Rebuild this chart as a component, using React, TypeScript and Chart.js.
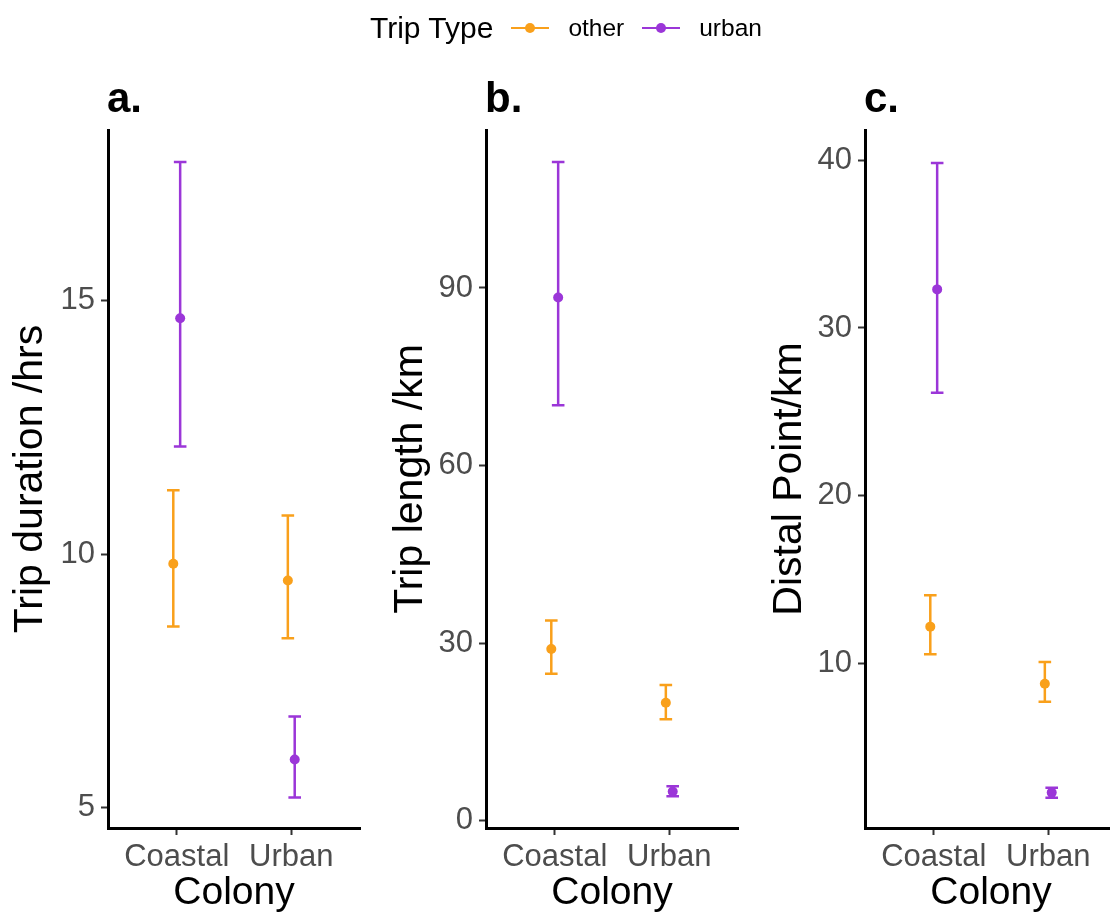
import React, { useEffect, useRef } from 'react';
import { Chart, registerables } from 'chart.js';

Chart.register(...registerables);

// ---------- data ----------
const categories = ['Coastal', 'Urban'];
const seriesNames = ['other', 'urban'];
const seriesColors = ['#F9A01B', '#9B36D8'];
const legendTitle = 'Trip Type';
const xTitle = 'Colony';

// a. Trip duration /hrs
const durationOther = [9.81, 9.48];
const durationOtherLow = [8.57, 8.34];
const durationOtherHigh = [11.26, 10.76];
const durationUrban = [14.65, 5.95];
const durationUrbanLow = [12.12, 5.2];
const durationUrbanHigh = [17.73, 6.8];
const durationTicks = [5, 10, 15];
const durationRange = [4.6, 18.36];

// b. Trip length /km
const lengthOther = [29.0, 19.9];
const lengthOtherLow = [24.8, 17.1];
const lengthOtherHigh = [33.8, 22.9];
const lengthUrban = [88.4, 4.9];
const lengthUrbanLow = [70.2, 4.1];
const lengthUrbanHigh = [111.3, 5.8];
const lengthTicks = [0, 30, 60, 90];
const lengthRange = [-1.26, 116.7];

// c. Distal Point/km
const distalOther = [12.2, 8.8];
const distalOtherLow = [10.56, 7.72];
const distalOtherHigh = [14.07, 10.1];
const distalUrban = [32.3, 2.31];
const distalUrbanLow = [26.14, 2.0];
const distalUrbanHigh = [39.84, 2.6];
const distalTicks = [10, 20, 30, 40];
const distalRange = [0.2, 41.8];

const dodge = [-0.03, 0.03];
const capHalfWidth = 0.055;

const FONT = "'Liberation Sans', Arial, Helvetica, sans-serif";
Chart.defaults.font.family = FONT;

type PanelDef = {
  label: string;
  yTitle: string;
  mids: number[][];
  lows: number[][];
  highs: number[][];
  ticks: number[];
  range: number[];
  canvasLeft: number;
  canvasWidth: number;
  axisLeft: number;
  axisRight: number;
  titlePad: number;
};

const panels: PanelDef[] = [
  {
    label: 'a.', yTitle: 'Trip duration /hrs',
    mids: [durationOther, durationUrban], lows: [durationOtherLow, durationUrbanLow], highs: [durationOtherHigh, durationUrbanHigh],
    ticks: durationTicks, range: durationRange,
    canvasLeft: 0, canvasWidth: 370, axisLeft: 108, axisRight: 360, titlePad: 6,
  },
  {
    label: 'b.', yTitle: 'Trip length /km',
    mids: [lengthOther, lengthUrban], lows: [lengthOtherLow, lengthUrbanLow], highs: [lengthOtherHigh, lengthUrbanHigh],
    ticks: lengthTicks, range: lengthRange,
    canvasLeft: 370, canvasWidth: 375, axisLeft: 486, axisRight: 738, titlePad: 16,
  },
  {
    label: 'c.', yTitle: 'Distal Point/km',
    mids: [distalOther, distalUrban], lows: [distalOtherLow, distalUrbanLow], highs: [distalOtherHigh, distalUrbanHigh],
    ticks: distalTicks, range: distalRange,
    canvasLeft: 745, canvasWidth: 380, axisLeft: 865, axisRight: 1117, titlePad: 20,
  },
];

const CANVAS_H = 917;
const PLOT_TOP = 130;
const PLOT_BOTTOM = 828;

const errorBarPlugin = {
  id: 'errorBars',
  beforeDatasetsDraw(chart: any) {
    const { ctx, scales } = chart;
    const xs = scales.x;
    const ys = scales.y;
    chart.data.datasets.forEach((ds: any) => {
      ctx.save();
      ctx.strokeStyle = ds.borderColor;
      ctx.lineWidth = 2.5;
      ctx.lineCap = 'butt';
      ds.data.forEach((pt: any, i: number) => {
        const px = xs.getPixelForValue(pt.x);
        const pl = xs.getPixelForValue(pt.x - capHalfWidth);
        const pr = xs.getPixelForValue(pt.x + capHalfWidth);
        const yLo = ys.getPixelForValue(ds.errLow[i]);
        const yHi = ys.getPixelForValue(ds.errHigh[i]);
        ctx.beginPath();
        ctx.moveTo(px, yLo);
        ctx.lineTo(px, yHi);
        ctx.moveTo(pl, yLo);
        ctx.lineTo(pr, yLo);
        ctx.moveTo(pl, yHi);
        ctx.lineTo(pr, yHi);
        ctx.stroke();
      });
      ctx.restore();
    });
  },
};

const panelLabelPlugin = {
  id: 'panelLabel',
  afterDraw(chart: any, _args: any, opts: any) {
    const { ctx, chartArea } = chart;
    ctx.save();
    ctx.fillStyle = '#000';
    ctx.font = `bold 42px ${FONT}`;
    ctx.textAlign = 'left';
    ctx.textBaseline = 'alphabetic';
    ctx.fillText(opts.text, chartArea.left - 1, 112);
    ctx.restore();
  },
};

function Panel({ def }: { def: PanelDef }) {
  const ref = useRef<HTMLCanvasElement | null>(null);
  useEffect(() => {
    if (!ref.current) return;
    const yWidth = def.axisLeft - def.canvasLeft;
    const rightPad = def.canvasLeft + def.canvasWidth - def.axisRight;
    const datasets = seriesNames.map((name, s) => ({
      label: name,
      data: categories.map((_, i) => ({ x: i + 1 + dodge[s], y: def.mids[s][i] })),
      errLow: def.lows[s],
      errHigh: def.highs[s],
      backgroundColor: seriesColors[s],
      borderColor: seriesColors[s],
      pointRadius: 5,
      pointHoverRadius: 5,
      pointBorderWidth: 0,
      showLine: false,
    }));
    const chart = new Chart(ref.current, {
      type: 'scatter',
      data: { datasets: datasets as any },
      options: {
        responsive: false,
        animation: false,
        events: [],
        layout: { padding: { top: PLOT_TOP, right: rightPad, left: 0, bottom: 0 } },
        plugins: {
          legend: { display: false },
          tooltip: { enabled: false },
          panelLabel: { text: def.label },
        } as any,
        scales: {
          x: {
            type: 'linear',
            min: 0.4,
            max: 2.6,
            afterBuildTicks: (s: any) => {
              s.ticks = categories.map((_, i) => ({ value: i + 1 }));
            },
            afterFit: (s: any) => {
              s.height = CANVAS_H - PLOT_BOTTOM;
            },
            ticks: {
              callback: (v: any) => categories[Math.round(v) - 1] ?? '',
              font: { size: 31 },
              color: '#4D4D4D',
              padding: 4,
              maxRotation: 0,
              autoSkip: false,
            },
            grid: { drawOnChartArea: false, drawTicks: true, tickLength: 7, tickColor: '#333333', tickWidth: 2 },
            border: { display: true, color: '#000', width: 3 },
            title: { display: true, text: xTitle, color: '#000', font: { size: 39 }, padding: { top: 0, bottom: 0 } },
          },
          y: {
            type: 'linear',
            min: def.range[0],
            max: def.range[1],
            afterBuildTicks: (s: any) => {
              s.ticks = def.ticks.map((v) => ({ value: v }));
            },
            afterFit: (s: any) => {
              s.width = yWidth;
            },
            ticks: {
              font: { size: 31 },
              color: '#4D4D4D',
              padding: 6,
              autoSkip: false,
            },
            grid: { drawOnChartArea: false, drawTicks: true, tickLength: 7, tickColor: '#333333', tickWidth: 2 },
            border: { display: true, color: '#000', width: 3 },
            title: { display: true, text: def.yTitle, color: '#000', font: { size: 41 }, padding: { top: def.titlePad, bottom: 0 } },
          },
        },
      } as any,
      plugins: [errorBarPlugin, panelLabelPlugin],
    });
    return () => chart.destroy();
  }, [def]);
  return (
    <canvas
      ref={ref}
      width={def.canvasWidth}
      height={CANVAS_H}
      style={{ position: 'absolute', left: def.canvasLeft, top: 0, width: def.canvasWidth, height: CANVAS_H }}
    />
  );
}

function LegendKey({ color }: { color: string }) {
  return (
    <span style={{ position: 'relative', display: 'inline-block', width: 38, height: 12, verticalAlign: 'middle' }}>
      <span style={{ position: 'absolute', left: 0, right: 0, top: 5, height: 2.4, background: color }} />
      <span style={{ position: 'absolute', left: 14, top: 1, width: 10, height: 10, borderRadius: 5, background: color }} />
    </span>
  );
}

export default function App() {
  return (
    <div style={{ position: 'absolute', left: 0, top: 0, width: 1110, height: 917, overflow: 'hidden', background: '#fff' }}>
      {panels.map((p) => (
        <Panel key={p.label} def={p} />
      ))}
      <div
        style={{
          position: 'absolute', left: 370, top: 10, height: 36, display: 'flex', alignItems: 'center',
          fontFamily: FONT, color: '#000', whiteSpace: 'nowrap',
        }}
      >
        <span style={{ fontSize: 30, marginRight: 18 }}>{legendTitle}</span>
        {seriesNames.map((n, s) => (
          <span key={n} style={{ display: 'inline-flex', alignItems: 'center', marginRight: 18 }}>
            <LegendKey color={seriesColors[s]} />
            <span style={{ fontSize: 24.5, marginLeft: 19 }}>{n}</span>
          </span>
        ))}
      </div>
    </div>
  );
}
